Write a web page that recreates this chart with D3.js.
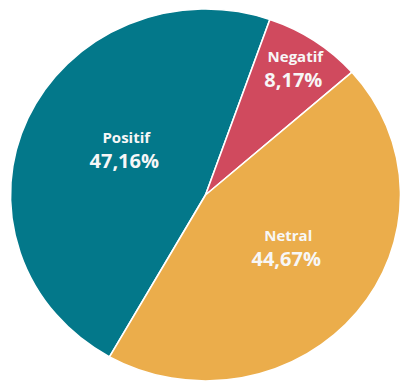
<!DOCTYPE html>
<html>
<head>
<meta charset="utf-8">
<script src="https://cdn.jsdelivr.net/npm/d3@7"></script>
<style>
  html, body { margin: 0; padding: 0; background: #ffffff; }
  svg { display: block; }
</style>
</head>
<body>
<svg id="chart" width="400" height="383"></svg>
<script>
// ---- data ----
const categories = ["Positif", "Negatif", "Netral"];
const values = [47.16, 8.17, 44.67];
const valueLabels = ["47,16%", "8,17%", "44,67%"];
const colors = ["#03788A", "#D04A5E", "#EBAD4B"];

// ---- layout ----
const W = 400, H = 383;
const cx = 205.5, cy = 195;
const R = 195;
const yScale = 186 / 195;
const startDeg = -150.5;

const svg = d3.select("#chart");

const data = categories.map((c, i) => ({ name: c, value: values[i], label: valueLabels[i], color: colors[i] }));

const pie = d3.pie()
  .sort(null)
  .value(d => d.value)
  .startAngle(startDeg * Math.PI / 180)
  .endAngle(startDeg * Math.PI / 180 + 2 * Math.PI);

const arcs = pie(data);
const arc = d3.arc().innerRadius(0).outerRadius(R);

const g = svg.append("g")
  .attr("transform", `translate(${cx},${cy}) scale(1,${yScale})`);

g.selectAll("path")
  .data(arcs)
  .join("path")
  .attr("d", arc)
  .attr("fill", d => d.data.color)
  .attr("stroke", "#ffffff")
  .attr("stroke-width", 1.6)
  .attr("stroke-linejoin", "round")
  .attr("vector-effect", "non-scaling-stroke");

// label placement: centroid of a label arc, with small best-fit nudges
const labelRadiusFrac = { "Positif": 0.48, "Negatif": 0.815, "Netral": 0.507 };
const nudge = { "Positif": [5, -8], "Negatif": [0, 0], "Netral": [5, -6] };

const labels = svg.append("g");
arcs.forEach(a => {
  const r = R * labelRadiusFrac[a.data.name];
  const [lx, ly] = d3.arc().innerRadius(r).outerRadius(r).centroid(a);
  const n = nudge[a.data.name];
  const x = cx + lx + n[0];
  const y = cy + ly * yScale + n[1];
  const t = labels.append("g").attr("transform", `translate(${x},${y})`);
  t.append("text")
    .attr("x", 1)
    .attr("y", -7)
    .attr("text-anchor", "middle")
    .attr("font-family", "'Open Sans', sans-serif")
    .attr("font-weight", 700)
    .attr("font-size", 15)
    .attr("fill", "#f7f7f7")
    .text(a.data.name);
  t.append("text")
    .attr("x", -1)
    .attr("y", 18)
    .attr("text-anchor", "middle")
    .attr("font-family", "'Open Sans', sans-serif")
    .attr("font-weight", 700)
    .attr("font-size", 20)
    .attr("fill", "#f7f7f7")
    .text(a.data.label);
});
</script>
</body>
</html>
